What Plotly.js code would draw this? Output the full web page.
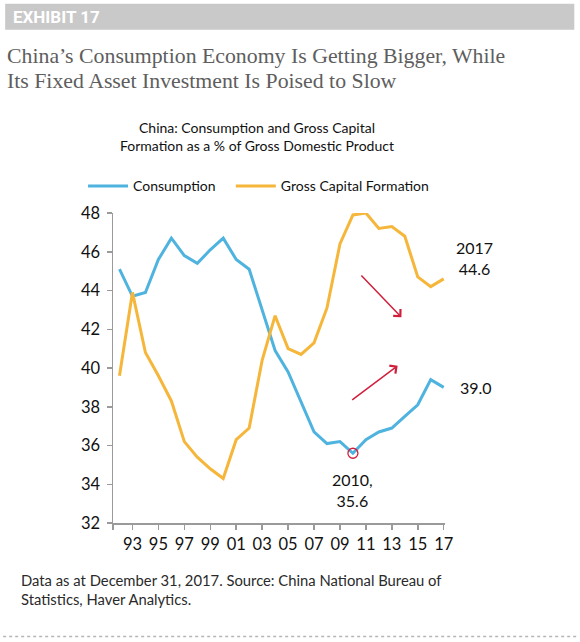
<!DOCTYPE html>
<html>
<head>
<meta charset="utf-8">
<script src="https://cdn.plot.ly/plotly-3.0.1.min.js"></script>
<style>
html,body{margin:0;padding:0;background:#fff;}
#chart{width:580px;height:642px;}
</style>
</head>
<body>
<div id="chart"></div>
<script>
// ---- data ----
var years = [1992,1993,1994,1995,1996,1997,1998,1999,2000,2001,2002,2003,2004,2005,2006,2007,2008,2009,2010,2011,2012,2013,2014,2015,2016,2017];
var consumption = [45.1,43.7,43.9,45.6,46.7,45.8,45.4,46.1,46.7,45.6,45.1,43.0,40.9,39.8,38.2,36.7,36.1,36.2,35.6,36.3,36.7,36.9,37.5,38.1,39.4,39.0];
var grossCapital = [39.6,43.9,40.8,39.6,38.3,36.2,35.4,34.8,34.3,36.3,36.9,40.4,42.7,41.0,40.7,41.3,43.1,46.4,47.9,48.0,47.2,47.3,46.8,44.7,44.2,44.6];
var xTickVals = [1991.5,1993,1995,1997,1999,2001,2003,2005,2007,2009,2011,2013,2015,2017];
var xTickText = ["","93","95","97","99","01","03","05","07","09","11","13","15","17"];
var seriesNames = ["Consumption","Gross Capital Formation"];

// ---- geometry ----
var W = 580, H = 642;
var ml = 113, mr = 134.5, mt = 212.7, mb = 118.7;
function px(x){ return (x - ml) / (W - ml - mr); }
function py(y){ return (H - mb - y) / (H - mt - mb); }

var BLUE = "#4fb3df", ORANGE = "#f5b63a", RED = "#d01f3c";
var FONT = "Lato, 'Noto Sans', sans-serif";

// min of consumption
var minIdx = 0;
for (var i = 1; i < consumption.length; i++) if (consumption[i] < consumption[minIdx]) minIdx = i;
var lastIdx = years.length - 1;

var traces = [
  {x: years, y: consumption, name: seriesNames[0], type: "scatter", mode: "lines",
   line: {color: BLUE, width: 3}, legend: "legend"},
  {x: years, y: grossCapital, name: seriesNames[1], type: "scatter", mode: "lines",
   line: {color: ORANGE, width: 3}, legend: "legend2"},
  {x: [years[minIdx]], y: [consumption[minIdx]], type: "scatter", mode: "markers", showlegend: false,
   marker: {symbol: "circle-open", size: 10, color: RED, line: {width: 1.3, color: RED}}, cliponaxis: false}
];

var annotations = [
  {xref: "paper", yref: "paper", x: px(11), y: py(16), xanchor: "left", yanchor: "middle", showarrow: false,
   text: "<b>EXHIBIT 17</b>", font: {family: "Roboto, 'Liberation Sans', sans-serif", size: 17, color: "#ffffff"}},
  {xref: "paper", yref: "paper", x: px(5), y: py(55), xanchor: "left", yanchor: "middle", showarrow: false,
   text: "China’s Consumption Economy Is Getting Bigger, While", font: {family: "'Liberation Serif', serif", size: 21.8, color: "#5e5e5e"}},
  {xref: "paper", yref: "paper", x: px(5), y: py(80), xanchor: "left", yanchor: "middle", showarrow: false,
   text: "Its Fixed Asset Investment Is Poised to Slow", font: {family: "'Liberation Serif', serif", size: 21.8, color: "#5e5e5e"}},
  {xref: "paper", yref: "paper", x: px(257), y: py(136), xanchor: "center", yanchor: "middle", showarrow: false,
   text: "China: Consumption and Gross Capital<br>Formation as a % of Gross Domestic Product",
   font: {family: FONT, size: 14, color: "#111"}},
  {xref: "paper", yref: "paper", x: px(19), y: py(590), xanchor: "left", yanchor: "middle", showarrow: false, align: "left",
   text: "Data as at December 31, 2017. Source: China National Bureau of<br>Statistics, Haver Analytics.",
   font: {family: FONT, size: 14.8, color: "#2a2a2a"}},
  {xref: "x", yref: "y", x: years[lastIdx], y: grossCapital[lastIdx], xshift: 31, yshift: 21, showarrow: false,
   text: String(years[lastIdx]) + "<br>" + grossCapital[lastIdx].toFixed(1), font: {family: FONT, size: 16, color: "#111"}},
  {xref: "x", yref: "y", x: years[lastIdx], y: consumption[lastIdx], xshift: 32, yshift: 0, showarrow: false,
   text: consumption[lastIdx].toFixed(1), font: {family: FONT, size: 16, color: "#111"}},
  {xref: "x", yref: "y", x: years[minIdx], y: consumption[minIdx], xshift: 0, yshift: -37, showarrow: false,
   text: String(years[minIdx]) + ",<br>" + consumption[minIdx].toFixed(1), font: {family: FONT, size: 16, color: "#111"}},
  {xref: "x", yref: "y", axref: "x", ayref: "y", x: 2013.74, y: 42.62, ax: 2010.54, ay: 44.85, text: "",
   showarrow: true, arrowhead: 4, arrowsize: 1.3, arrowwidth: 1.5, arrowcolor: RED},
  {xref: "x", yref: "y", axref: "x", ayref: "y", x: 2013.45, y: 40.12, ax: 2009.83, ay: 38.30, text: "",
   showarrow: true, arrowhead: 4, arrowsize: 1.3, arrowwidth: 1.5, arrowcolor: RED}
];

var shapes = [
  {type: "rect", xref: "paper", yref: "paper", x0: px(5), x1: px(575), y0: py(29), y1: py(3),
   fillcolor: "#c9c9c9", line: {width: 0}, layer: "below"},
  {type: "line", xref: "paper", yref: "paper", x0: px(3), x1: px(577), y0: py(637), y1: py(637),
   line: {color: "#b5b5b5", width: 1.5, dash: "dot"}}
];

var legendBase = {orientation: "h", xanchor: "left", yanchor: "middle",
  font: {family: FONT, size: 14, color: "#111"}, itemwidth: 40, bgcolor: "rgba(0,0,0,0)"};

var layout = {
  width: W, height: H,
  margin: {l: ml, r: mr, t: mt, b: mb, pad: 0},
  paper_bgcolor: "#ffffff", plot_bgcolor: "#ffffff",
  showlegend: true,
  legend: Object.assign({}, legendBase, {x: px(83), y: py(186)}),
  legend2: Object.assign({}, legendBase, {x: px(231), y: py(186)}),
  xaxis: {range: [1991.5, 2017.1], tickmode: "array", tickvals: xTickVals, ticktext: xTickText,
          showgrid: false, zeroline: false, showline: true, linecolor: "#9a9a9a", linewidth: 1.5,
          ticks: "outside", ticklen: 5, tickwidth: 1.5, tickcolor: "#9a9a9a",
          tickfont: {family: FONT, size: 16.5, color: "#111"}, ticklabelstandoff: 1, fixedrange: true},
  yaxis: {range: [32, 48], dtick: 2, tick0: 32, showgrid: false, zeroline: false, showline: true,
          linecolor: "#9a9a9a", linewidth: 1.5, ticks: "outside", ticklen: 5, tickwidth: 1.5, tickcolor: "#9a9a9a",
          tickfont: {family: FONT, size: 16.5, color: "#111"}, ticklabelstandoff: 3, fixedrange: true},
  annotations: annotations,
  shapes: shapes
};

Plotly.newPlot("chart", traces, layout, {displayModeBar: false, staticPlot: true});
</script>
</body>
</html>
